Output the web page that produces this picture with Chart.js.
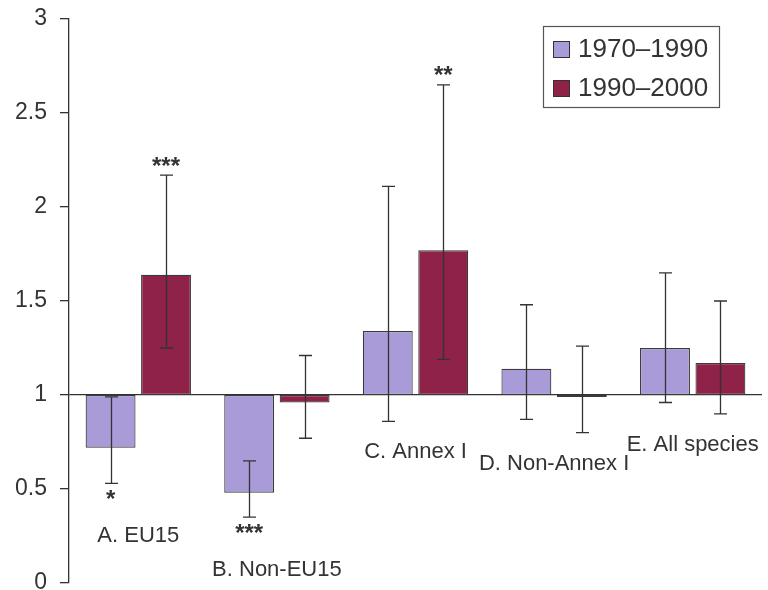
<!DOCTYPE html>
<html>
<head>
<meta charset="utf-8">
<script src="https://cdn.jsdelivr.net/npm/chart.js@4.4.1/dist/chart.umd.min.js"></script>
<style>
  html,body{margin:0;padding:0;background:#fff;}
  #wrap{width:768px;height:590px;}
</style>
</head>
<body>
<div id="wrap"><canvas id="chart" width="768" height="590"></canvas></div>
<script>
// DATA
const categories = ["A. EU15", "B. Non-EU15", "C. Annex I", "D. Non-Annex I", "E. All species"];
const seriesNames = ["1970\u20131990", "1990\u20132000"];
const values1 = [0.72, 0.48, 1.34, 1.14, 1.25];
const values2 = [1.64, 0.96, 1.77, 0.99, 1.17];
const errLow1 = [0.53, 0.35, 0.86, 0.87, 0.96];
const errHigh1 = [0.99, 0.65, 2.11, 1.48, 1.65];
const errLow2 = [1.25, 0.77, 1.19, 0.80, 0.90];
const errHigh2 = [2.17, 1.21, 2.65, 1.26, 1.50];
const stars1 = ["*", "***", "", "", ""];
const stars2 = ["***", "", "**", "", ""];
const yTicks = [0, 0.5, 1, 1.5, 2, 2.5, 3];
const baseline = 1;

const colors = ["#a99ad8", "#8e2249"];
const ink = "#333";
const font = "'Liberation Sans', Arial, sans-serif";

// ERROR BARS, STARS, CATEGORY LABELS, LEGEND
const extras = {
  id: "extras",
  afterDatasetsDraw(c){
    const ctx = c.ctx, y = c.scales.y, x = c.scales.x;
    const errs = [[errLow1, errHigh1], [errLow2, errHigh2]];
    const stars = [stars1, stars2];
    const vals = [values1, values2];
    const lowest = categories.map(()=>0);
    ctx.save();
    ctx.strokeStyle = ink;
    ctx.lineWidth = 1.3;
    [0,1].forEach(d=>{
      const meta = c.getDatasetMeta(d);
      meta.data.forEach((bar,i)=>{
        const lo = y.getPixelForValue(errs[d][0][i]);
        const hi = y.getPixelForValue(errs[d][1][i]);
        const bx = Math.round(bar.x)+0.5;
        ctx.beginPath();
        ctx.moveTo(bx, lo); ctx.lineTo(bx, hi);
        ctx.moveTo(bx-6.5, lo); ctx.lineTo(bx+6.5, lo);
        ctx.moveTo(bx-6.5, hi); ctx.lineTo(bx+6.5, hi);
        ctx.stroke();
        let low = lo;
        const s = stars[d][i];
        if(s){
          ctx.fillStyle = ink;
          ctx.font = "bold 24px " + font;
          ctx.textAlign = "center";
          ctx.textBaseline = "middle";
          if(vals[d][i] < baseline){
            ctx.fillText(s, bar.x, lo + 17);
            low = lo + 22;
          } else {
            ctx.fillText(s, bar.x, hi - 8);
          }
        }
        lowest[i] = Math.max(lowest[i], low);
      });
    });
    // category labels under each group
    ctx.fillStyle = ink;
    ctx.font = "22px " + font;
    ctx.textAlign = "center";
    ctx.textBaseline = "top";
    categories.forEach((cat,i)=>{
      ctx.fillText(cat, x.getPixelForValue(i), lowest[i] + 20);
    });
    // legend box
    const ca = c.chartArea;
    const bw = 176, bh = 81;
    const lx = ca.right - 43 - bw, ly = ca.top + 7;
    ctx.strokeStyle = "#555";
    ctx.lineWidth = 1.2;
    ctx.strokeRect(lx+0.5, ly+0.5, bw, bh);
    ctx.font = "26px " + font;
    ctx.textAlign = "left";
    ctx.textBaseline = "middle";
    seriesNames.forEach((n,k)=>{
      const ry = ly + 23 + k*39;
      ctx.fillStyle = colors[k];
      ctx.fillRect(lx+10, ry-8, 16, 16);
      ctx.strokeStyle = "#333";
      ctx.lineWidth = 1;
      ctx.strokeRect(lx+10.5, ry-7.5, 16, 16);
      ctx.fillStyle = ink;
      ctx.fillText(n, lx+35, ry+1);
    });
    ctx.restore();
  }
};

new Chart(document.getElementById("chart"), {
  type: "bar",
  data: {
    labels: categories,
    datasets: [
      {label: seriesNames[0], data: values1.map(v=>[baseline, v]), backgroundColor: colors[0], borderColor: "#3a3a3a", borderWidth: 1.2, borderSkipped: false},
      {label: seriesNames[1], data: values2.map(v=>[baseline, v]), backgroundColor: colors[1], borderColor: "#3a3a3a", borderWidth: 1.2, borderSkipped: false}
    ]
  },
  options: {
    responsive: false,
    animation: false,
    layout: {padding: {top: 19, right: 6, bottom: 7, left: 0}},
    plugins: {legend: {display: false}, tooltip: {enabled: false}},
    scales: {
      x: {display: false, categoryPercentage: 0.672, barPercentage: 1},
      y: {
        min: 0, max: 3,
        afterBuildTicks: s => { s.ticks = yTicks.map(v=>({value: v})); },
        afterFit: s => { s.width = 69; s.paddingTop = 0; s.paddingBottom = 0; },
        border: {display: true, color: "#333", width: 1.3},
        grid: {
          color: ctx => ctx.tick && ctx.tick.value === baseline ? "#333" : "rgba(0,0,0,0)",
          lineWidth: 1.3,
          tickColor: "#333",
          tickLength: 9,
          drawTicks: true
        },
        ticks: {
          color: ink,
          padding: 13,
          font: {family: font, size: 23},
          callback: v => String(v)
        }
      }
    }
  },
  plugins: [extras]
});
</script>
</body>
</html>
